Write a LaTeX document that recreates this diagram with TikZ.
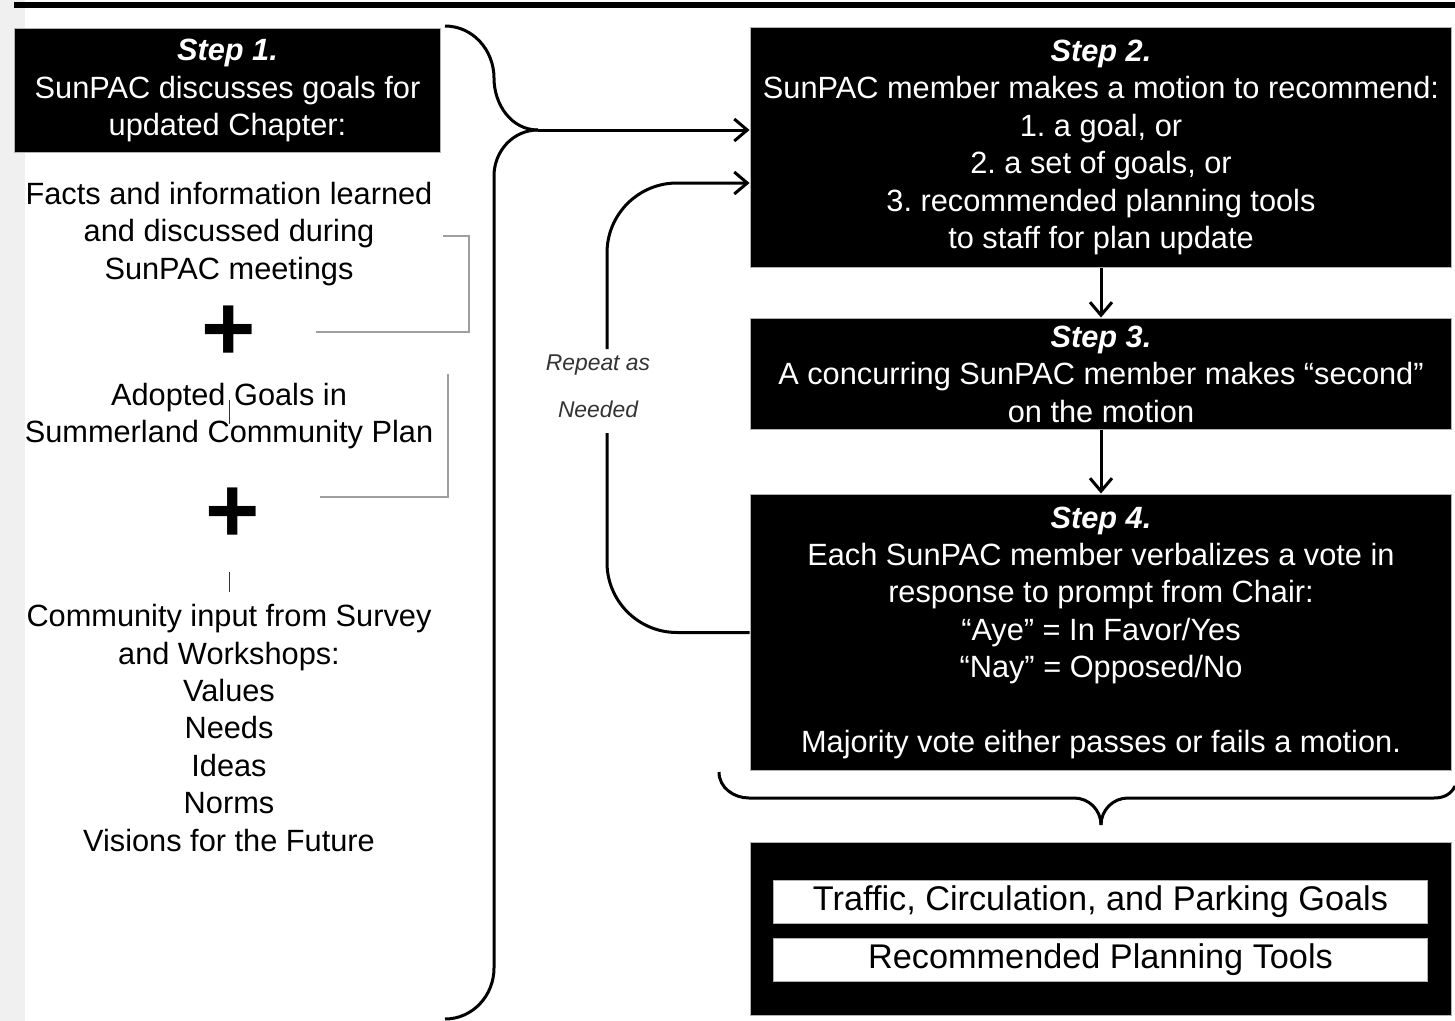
\documentclass[tikz,border=0pt]{standalone}
\usepackage{fontspec}
\setmainfont{Liberation Sans}
\usetikzlibrary{arrows.meta}
\usetikzlibrary{calc}
\frenchspacing
\tikzset{
    stepbox/.style={fill=black, draw=gray!60, line width=0.2mm, text=white, align=center, inner sep=0pt, minimum width=14.04cm, font=\fontsize{17.5}{21.3}\selectfont},
    sidetext/.style={align=center, inner sep=0pt, font=\fontsize{17.5}{21.3}\selectfont},
    goalbox/.style={fill=white, draw=gray!60, line width=0.2mm, inner sep=0pt, minimum width=13.1cm, minimum height=0.86cm, font=\fontsize{19.5}{22}\selectfont},
    flowline/.style={line width=0.6mm, draw=black},
    flowarrow/.style={flowline, -{Straight Barb[length=2.6mm, width=4.4mm]}},
    groupline/.style={line width=0.3mm, draw=gray!75},
}
\newcommand{\Steptitle}[1]{\textbf{\textit{Step #1.}}}
\newcommand{\drawplus}[2]{
    \node [inner sep=0pt, font=\fontsize{53}{53}\selectfont\bfseries] (#1) at (#2) {+};
}
\newcommand{\drawcursor}[2]{
    \draw [line width=0.2mm, draw=black!80] (#1) -- ++(0,#2);
}

\begin{document}
\begin{tikzpicture}[x=0.02cm, y=-0.02cm]
    \useasboundingbox (0,0) rectangle (1455,1021);
    \fill [black!6] (0,0) rectangle (25,1021);
    \draw [line width=1.2mm] (14,5) -- (1455,5);

    % left column
    \node [stepbox, minimum width=8.54cm, minimum height=2.5cm] (S1) at (227.5,90.5) {\Steptitle{1}\\SunPAC discusses goals for\\updated Chapter:};
    \node [sidetext] (facts) at (229,234) {Facts and information learned\\and discussed during\\SunPAC meetings};
    \drawplus{plusA}{229,333}
    \node [sidetext] (adopted) at (229,416) {Adopted Goals in\\Summerland Community Plan};
    \drawplus{plusB}{233,515}
    \node [sidetext] (input) at (229,728) {Community input from Survey\\and Workshops:\\Values\\Needs\\Ideas\\Norms\\Visions for the Future};
    \drawcursor{229,400}{24}
    \drawcursor{229,572}{20}
    \draw [groupline] (443,236) -- (469,236) -- (469,332) -- (316,332);
    \draw [groupline] (448,374) -- (448,497) -- (320,497);

    % right column
    \node [stepbox, minimum height=4.82cm] (S2) at (1101,147.5) {\Steptitle{2}\\SunPAC member makes a motion to recommend:\\1. a goal, or\\2. a set of goals, or\\3. recommended planning tools\\to staff for plan update};
    \node [stepbox, minimum height=2.24cm] (S3) at (1101,374) {\Steptitle{3}\\A concurring SunPAC member makes “second”\\on the motion};
    \node [stepbox, minimum height=5.54cm] (S4) at (1101,632.5) {\Steptitle{4}\\Each SunPAC member verbalizes a vote in\\response to prompt from Chair:\\“Aye” = In Favor/Yes\\“Nay” = Opposed/No\\[21pt]Majority vote either passes or fails a motion.};
    \node [stepbox, minimum height=3.46cm] (S5) at (1101,929) {};
    \node [goalbox] (goals) at (1100.5,901.5) {Traffic, Circulation, and Parking Goals};
    \node [goalbox] (tools) at (1100.5,960) {Recommended Planning Tools};
    \draw [flowarrow] (S2.south) -- (S3.north);
    \draw [flowarrow] (S3.south) -- (S4.north);

    % brace gathering step 1
    \coordinate (tip) at (538,130);
    \draw [flowline] (445,26) to[out=0,in=90] (494,78) to[out=-90,in=180] (tip);
    \draw [flowline] (tip) to[out=180,in=90] (494,176) -- (494,968) to[out=-90,in=0] (445,1019);
    \draw [flowarrow] (tip) -- (tip -| S2.west);

    % repeat loop
    \node [inner sep=0pt, align=center, text=black!80, font=\fontsize{13}{27}\selectfont\itshape] (repeat) at (598,386) {Repeat as\\Needed};
    \coordinate (loopbot) at (607,433);
    \coordinate (looptop) at (607,349);
    \draw [flowline, rounded corners=1.4cm] (S4.west) -| (loopbot);
    \draw [flowarrow, rounded corners=1.4cm] (looptop) |- ($(S2.west)+(0,35.5)$);

    % brace below step 4
    \coordinate (btip) at (1101,825);
    \draw [flowline] (719,772) to[out=-90,in=180] (749,798) -- (1074,798) to[out=0,in=90] (btip);
    \draw [flowline] (btip) to[out=90,in=180] (1128,798) -- (1434,798) to[out=0,in=-115] (1455,786);
\end{tikzpicture}
\end{document}
